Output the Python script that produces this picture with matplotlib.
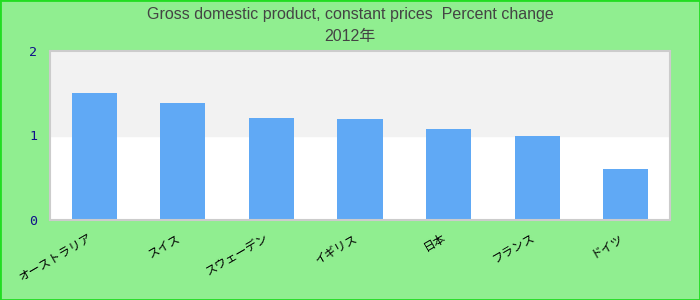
import numpy as np
import matplotlib.pyplot as plt

plt.rcParams['font.family'] = ['Liberation Sans', 'Noto Sans CJK JP', 'DejaVu Sans']

countries = ['オーストラリア', 'スイス', 'スウェーデン', 'イギリス', '日本', 'フランス', 'ドイツ']
gdp_change = [1.50, 1.39, 1.21, 1.19, 1.08, 1.00, 0.60]
y_ticks = [0, 1, 2]

fig = plt.figure(figsize=(7, 3), dpi=100, facecolor='#90ee90')
fig.patches.append(plt.Rectangle((0, 0), 1, 1, transform=fig.transFigure,
                                 fill=False, edgecolor='#22dd22', linewidth=2))
ax = fig.add_axes([50 / 700, 1 - 220 / 300, 620 / 700, 169 / 300])

# alternating background bands
ax.axhspan(0, 1, color='white', zorder=0)
ax.axhspan(1, 2, color='#f2f2f2', zorder=0)

x = np.arange(len(countries))
ax.bar(x, gdp_change, width=0.51, color='#60a9f5', zorder=2)

ax.set_xlim(-0.5, len(countries) - 0.5)
ax.set_ylim(0, 2)
ax.set_yticks(y_ticks)
ax.set_yticklabels([str(t) for t in y_ticks], family='DejaVu Sans Mono',
                   fontsize=9.5, color='#10108a')
ax.set_xticks(x)
ax.set_xticklabels(countries, rotation=30, ha='right', fontsize=8.5,
                   family=['Noto Sans CJK JP', 'DejaVu Sans'])
ax.tick_params(axis='y', length=0, pad=9)
ax.tick_params(axis='x', length=0, pad=8)
for s in ax.spines.values():
    s.set_color('#cccccc')
    s.set_linewidth(1.5)

fig.text(0.5, 1 - 14 / 300, 'Gross domestic product, constant prices  Percent change',
         ha='center', va='center', fontsize=11.5, color='#444444')
fig.text(0.5, 1 - 37 / 300, '2012年', ha='center', va='center', fontsize=11.5,
         color='#444444', family=['Liberation Sans', 'Noto Sans CJK JP'])

fig.savefig('out.png', dpi=100, facecolor=fig.get_facecolor())
